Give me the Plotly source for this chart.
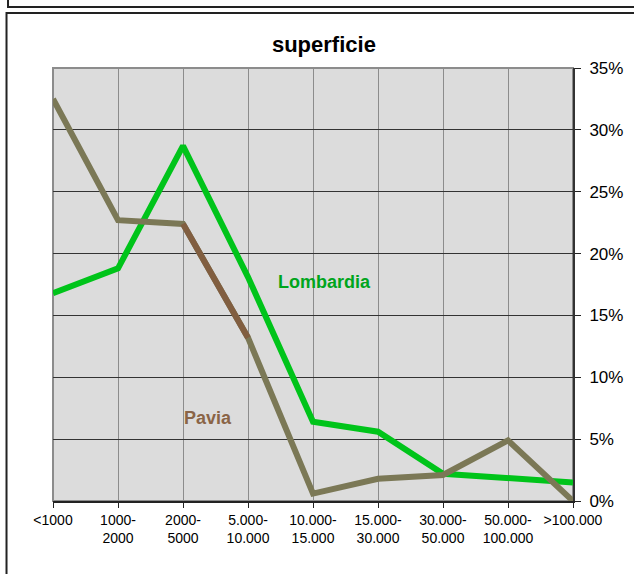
import plotly.graph_objects as go

# size classes (x axis)
categories = ["&lt;1000", "1000-<br>2000", "2000-<br>5000", "5.000-<br>10.000",
              "10.000-<br>15.000", "15.000-<br>30.000", "30.000-<br>50.000",
              "50.000-<br>100.000", "&gt;100.000"]

# share of farms by area class
lombardia = [0.168, 0.188, 0.287, 0.181, 0.064, 0.056, 0.022, 0.018, 0.015]
pavia = [0.325, 0.227, 0.224, 0.132, 0.006, 0.018, 0.021, 0.049, 0.0]

green = "#00c41a"
olive = "#7b7856"
brown = "#815e40"

fig = go.Figure()
fig.add_trace(go.Scatter(x=categories, y=lombardia, mode="lines", name="Lombardia",
                         line=dict(color=green, width=6)))
fig.add_trace(go.Scatter(x=categories, y=pavia, mode="lines", name="Pavia",
                         line=dict(color=olive, width=6)))
# the 2000-5000 -> 5.000-10.000 piece of Pavia is drawn in brown
fig.add_trace(go.Scatter(x=categories[2:4], y=pavia[2:4], mode="lines", showlegend=False,
                         line=dict(color=brown, width=6)))

fig.add_annotation(x=4.18, y=0.177, text="<b>Lombardia</b>", showarrow=False,
                   font=dict(color="#00a51c", size=18))
fig.add_annotation(x=2.38, y=0.067, text="<b>Pavia</b>", showarrow=False,
                   font=dict(color="#8a6446", size=18))

# plot border (top/left grey) and outer frames
fig.add_shape(type="rect", xref="paper", yref="paper", x0=0, x1=1, y0=0, y1=1,
              line=dict(color="#8c8c8c", width=2), layer="below")
fig.add_shape(type="rect", xref="paper", yref="paper", x0=-0.0894, x1=1.3, y0=-0.3, y1=1.127,
              line=dict(color="#222", width=2))
fig.add_shape(type="rect", xref="paper", yref="paper", x0=-0.0865, x1=1.3, y0=1.141, y1=1.4,
              line=dict(color="#222", width=2))

fig.update_layout(
    width=634,
    height=574,
    autosize=False,
    margin=dict(t=68, b=73, l=53, r=61),
    paper_bgcolor="white",
    plot_bgcolor="#dcdcdc",
    showlegend=False,
    font=dict(family="Liberation Sans, Arial, sans-serif", color="black"),
    title=dict(text="<b>superficie</b>", xref="paper", x=0.521, xanchor="center",
               y=1 - 44 / 574, yanchor="middle", font=dict(size=22, color="black")),
)
fig.update_xaxes(type="category", range=[0, 8], showgrid=True, gridcolor="#8c8c8c", gridwidth=1,
                 showline=True, linecolor="#222", linewidth=2, ticks="outside", ticklen=5,
                 tickcolor="#222", tickfont=dict(size=14), zeroline=False, fixedrange=True)
fig.update_yaxes(side="right", range=[0, 0.35], dtick=0.05, tickformat=".0%", showgrid=True,
                 gridcolor="#333", gridwidth=1, showline=True, linecolor="#333", linewidth=2,
                 ticks="outside", ticklen=6, tickcolor="#222", tickfont=dict(size=17),
                 ticklabelstandoff=5, zeroline=False, fixedrange=True)

# drop the default body margin so the figure fills the window
fig.write_html("out.html", config={"displayModeBar": False},
               post_script="document.body.style.margin='0';")
